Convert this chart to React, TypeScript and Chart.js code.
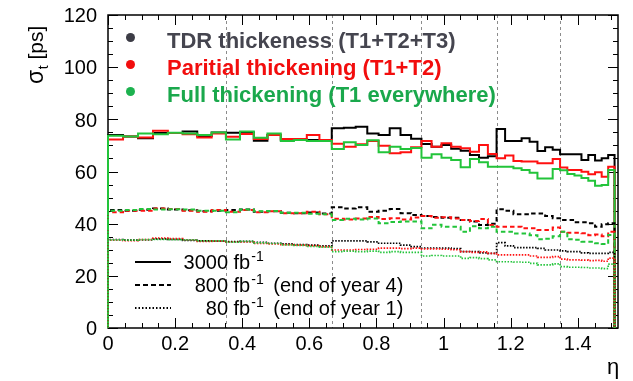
import React, { useEffect, useRef } from 'react';
import { Chart, registerables } from 'chart.js';

Chart.register(...registerables);

// Bin edges in eta (uniform in z along the barrel)
const etaEdges = [
  0, 0.04483, 0.08956, 0.13412, 0.17842, 0.22237, 0.26591, 0.30896, 0.35146, 0.39336,
  0.43461, 0.47518, 0.51503, 0.55415, 0.5925, 0.6301, 0.66692, 0.70297, 0.73825, 0.77276,
  0.80652, 0.83953, 0.87181, 0.90338, 0.93424, 0.96443, 0.99395, 1.02283, 1.05107, 1.0787,
  1.10575, 1.13221, 1.15812, 1.18349, 1.20834, 1.23268, 1.25654, 1.27992, 1.30284, 1.32532,
  1.34737, 1.369, 1.39022, 1.41106, 1.43152, 1.45161, 1.47134, 1.49074, 1.50979,
];
const moduleBoundaries = [0.35146, 0.66692, 0.93424, 1.15812, 1.34737];
const xTicks = [0, 0.2, 0.4, 0.6, 0.8, 1, 1.2, 1.4];
const yTicks = [0, 20, 40, 60, 80, 100, 120];

// 3000 fb-1
const tdr3000 = [
  74.0, 73.4, 72.7, 74.8, 74.8, 75.3, 73.6, 75.0, 74.9, 75.0, 71.8, 74.0, 72.1, 72.3, 72.1, 72.0,
  76.6, 76.8, 77.2, 74.6, 74.0, 76.6, 74.0, 72.6, 70.5, 69.5, 70.2, 68.7, 68.0, 66.3, 65.3, 65.8,
  76.3, 71.7, 71.7, 72.7, 71.4, 67.9, 69.3, 68.3, 66.6, 66.6, 66.6, 64.4, 66.3, 64.2, 65.1, 66.3,
];
const partial3000 = [
  72.3, 73.4, 73.0, 75.6, 74.8, 74.3, 73.0, 74.6, 73.3, 74.4, 72.5, 74.0, 72.5, 72.5, 74.0, 72.1,
  70.6, 69.5, 70.4, 71.7, 69.9, 67.0, 67.4, 69.3, 71.7, 69.5, 70.8, 69.5, 68.9, 67.6, 70.2, 66.7,
  65.1, 66.1, 64.0, 63.8, 63.8, 63.2, 63.2, 64.8, 61.5, 60.6, 60.6, 59.9, 58.9, 59.7, 58.0, 61.8,
];
const full3000 = [
  73.7, 73.4, 74.6, 74.3, 74.9, 74.6, 74.0, 75.0, 72.3, 75.3, 72.9, 74.6, 71.7, 72.1, 71.7, 71.7,
  68.6, 71.2, 70.2, 72.0, 67.4, 69.5, 68.6, 69.0, 65.3, 66.6, 65.3, 64.4, 61.6, 64.8, 63.5, 61.8,
  61.8, 61.8, 61.2, 60.6, 59.5, 57.3, 57.3, 61.0, 60.5, 59.0, 58.5, 57.5, 56.5, 54.5, 54.8, 60.6,
];
// 800 fb-1
const tdr800 = [
  45.2, 45.0, 45.3, 45.8, 45.4, 45.1, 44.8, 45.0, 45.2, 45.4, 44.6, 44.8, 44.2, 44.0, 44.3, 43.9,
  46.3, 45.8, 46.3, 44.6, 45.0, 45.6, 44.0, 43.3, 42.9, 42.6, 42.3, 42.3, 41.4, 40.8, 39.5, 40.0,
  45.5, 45.0, 43.6, 43.6, 43.9, 43.9, 42.9, 42.1, 41.4, 41.4, 40.5, 40.5, 40.2, 38.8, 39.8, 40.2,
];
const partial800 = [
  44.4, 45.0, 45.0, 45.8, 45.6, 45.0, 44.6, 45.2, 44.6, 45.2, 44.4, 44.8, 44.0, 44.0, 44.6, 43.6,
  41.9, 41.6, 42.0, 42.6, 41.8, 42.1, 41.6, 42.4, 42.9, 42.3, 42.5, 42.0, 41.4, 41.0, 41.8, 39.5,
  38.8, 38.8, 38.8, 38.2, 38.2, 37.6, 37.6, 38.5, 36.9, 36.5, 36.5, 36.3, 35.6, 35.8, 35.2, 36.9,
];
const full800 = [
  45.0, 45.2, 45.6, 45.4, 45.5, 45.4, 45.0, 45.0, 44.4, 45.4, 44.8, 44.9, 44.2, 44.2, 43.8, 43.6,
  41.4, 41.9, 41.6, 42.0, 40.2, 40.6, 40.8, 40.8, 38.2, 39.6, 38.8, 38.8, 36.9, 39.0, 38.2, 38.8,
  36.9, 36.9, 36.2, 36.2, 35.6, 34.0, 34.2, 35.2, 36.9, 34.0, 33.8, 33.1, 33.1, 32.5, 32.2, 35.7,
];
// 80 fb-1
const tdr80 = [
  33.9, 33.7, 33.8, 34.2, 34.0, 33.6, 33.4, 33.3, 33.1, 33.2, 32.8, 32.5, 32.3, 32.0, 31.8, 31.5,
  33.4, 33.4, 33.4, 33.0, 32.5, 32.5, 31.8, 31.2, 30.6, 30.6, 30.6, 30.4, 29.3, 29.3, 28.8, 28.6,
  32.7, 31.5, 30.8, 30.8, 30.8, 30.5, 29.9, 29.9, 29.6, 29.3, 29.3, 28.8, 28.6, 28.6, 28.6, 29.0,
];
const partial80 = [
  33.7, 33.5, 33.9, 34.5, 34.3, 33.8, 33.2, 33.3, 33.0, 33.0, 32.4, 32.2, 32.0, 31.8, 31.6, 31.2,
  29.9, 29.9, 30.1, 30.2, 30.6, 30.6, 30.4, 30.6, 30.3, 30.3, 30.2, 30.0, 29.3, 29.0, 29.2, 28.6,
  28.0, 28.0, 28.0, 28.0, 27.6, 27.1, 27.1, 27.4, 26.4, 26.1, 26.1, 26.0, 25.8, 25.9, 25.6, 26.8,
];
const full80 = [
  33.8, 33.7, 33.9, 34.0, 33.9, 33.8, 33.4, 33.4, 32.9, 33.2, 32.6, 32.4, 31.9, 31.7, 31.3, 31.0,
  29.3, 29.5, 29.3, 29.5, 29.0, 29.3, 29.0, 29.0, 27.6, 27.8, 27.6, 27.6, 26.7, 27.0, 26.6, 26.1,
  25.4, 25.4, 25.3, 25.2, 24.8, 24.2, 24.2, 24.6, 23.5, 23.3, 23.3, 23.2, 23.0, 23.0, 22.8, 24.5,
];

const legendLabels = ['TDR thickeness (T1+T2+T3)', 'Paritial thickening (T1+T2)', 'Full thickening (T1 everywhere)'];
const legendTextColors = ['#45454f', '#f20d0d', '#1aa84c'];
const legendDotColors = ['#3c3c46', '#f20d0d', '#1db24f'];
const lumiNumbers = ['3000', '800', '80'];
const lumiSuffix = ['', ' (end of year 4)', ' (end of year 1)'];

const LINE_BLACK = '#000000';
const LINE_RED = '#ff1010';
const LINE_GREEN = '#22c43a';
const FONT = '"Liberation Sans", Arial, Helvetica, sans-serif';

function histPoints(vals: number[]) {
  const pts: { x: number; y: number }[] = [{ x: etaEdges[0], y: 0 }];
  vals.forEach((v, i) => {
    pts.push({ x: etaEdges[i], y: v });
    pts.push({ x: etaEdges[i + 1], y: v });
  });
  pts.push({ x: etaEdges[vals.length], y: 0 });
  return pts;
}

const X_MAX = 1.52;
const Y_MAX = 120;

const decorPlugin = {
  id: 'decor',
  beforeDatasetsDraw(chart: any) {
    const { ctx, chartArea: a, scales } = chart;
    const x = scales.x;
    const y = scales.y;
    ctx.save();
    // module boundaries
    ctx.strokeStyle = '#8c8c8c';
    ctx.lineWidth = 1;
    ctx.setLineDash([3, 3]);
    moduleBoundaries.forEach((b) => {
      const px = Math.round(x.getPixelForValue(b)) + 0.5;
      ctx.beginPath();
      ctx.moveTo(px, a.top);
      ctx.lineTo(px, a.bottom);
      ctx.stroke();
    });
    ctx.setLineDash([]);
    // ticks
    ctx.strokeStyle = '#000';
    ctx.lineWidth = 1;
    for (let k = 0; k * 0.05 <= X_MAX + 1e-9; k++) {
      const v = k * 0.05;
      const len = k % 4 === 0 ? 10 : 5;
      const px = Math.round(x.getPixelForValue(v)) + 0.5;
      ctx.beginPath();
      ctx.moveTo(px, a.bottom);
      ctx.lineTo(px, a.bottom - len);
      ctx.moveTo(px, a.top);
      ctx.lineTo(px, a.top + len);
      ctx.stroke();
    }
    for (let k = 0; k * 5 <= Y_MAX; k++) {
      const v = k * 5;
      const len = k % 4 === 0 ? 10 : 5;
      const py = Math.round(y.getPixelForValue(v)) + 0.5;
      ctx.beginPath();
      ctx.moveTo(a.left, py);
      ctx.lineTo(a.left + len, py);
      ctx.moveTo(a.right, py);
      ctx.lineTo(a.right - len, py);
      ctx.stroke();
    }
    // frame
    ctx.lineWidth = 1.5;
    ctx.strokeRect(a.left, a.top, a.right - a.left, a.bottom - a.top);
    // y tick labels (positioned with the y scale)
    ctx.fillStyle = '#000';
    ctx.font = `20px ${FONT}`;
    ctx.textAlign = 'right';
    ctx.textBaseline = 'alphabetic';
    yTicks.forEach((v) => {
      ctx.fillText(String(v), a.left - 11, y.getPixelForValue(v) + 7.3);
    });
    ctx.restore();
  },
  afterDraw(chart: any) {
    const { ctx } = chart;
    ctx.save();
    // color legend
    ctx.textBaseline = 'alphabetic';
    ctx.textAlign = 'left';
    ctx.font = `bold 22px ${FONT}`;
    legendLabels.forEach((lab, i) => {
      const cy = 37.5 + i * 27;
      ctx.fillStyle = legendDotColors[i];
      ctx.beginPath();
      ctx.arc(130.5, cy, 4.5, 0, Math.PI * 2);
      ctx.fill();
      ctx.fillStyle = legendTextColors[i];
      ctx.fillText(lab, 167, cy + 10.5);
    });
    // luminosity legend
    const styles = [[], [5, 3], [1.5, 2]];
    lumiNumbers.forEach((num, i) => {
      const base = 269 + i * 23;
      const ly = base - 7;
      ctx.strokeStyle = '#000';
      ctx.lineWidth = 2;
      ctx.setLineDash(styles[i] as number[]);
      ctx.beginPath();
      ctx.moveTo(135, ly);
      ctx.lineTo(171, ly);
      ctx.stroke();
      ctx.setLineDash([]);
      ctx.fillStyle = '#000';
      ctx.font = `20px ${FONT}`;
      ctx.textAlign = 'right';
      ctx.fillText(num, 228, base);
      ctx.textAlign = 'left';
      const fbX = 228 + ctx.measureText(' ').width;
      ctx.fillText('fb', fbX, base);
      const supX = fbX + ctx.measureText('fb').width + 1;
      ctx.font = `14px ${FONT}`;
      ctx.fillText('-1', supX, base - 8);
      const restX = supX + ctx.measureText('-1').width;
      ctx.font = `20px ${FONT}`;
      if (lumiSuffix[i]) ctx.fillText(lumiSuffix[i], restX + 4, base);
    });
    // y title: sigma_t [ps]
    ctx.save();
    ctx.translate(43, 84);
    ctx.rotate(-Math.PI / 2);
    ctx.fillStyle = '#000';
    ctx.textAlign = 'left';
    ctx.font = `23px ${FONT}`;
    ctx.fillText('σ', 0, 0);
    const sw = ctx.measureText('σ').width;
    ctx.font = `14px ${FONT}`;
    ctx.fillText('t', sw + 0.5, 5);
    const tw = ctx.measureText('t').width;
    ctx.font = `21px ${FONT}`;
    ctx.fillText(' [ps]', sw + tw + 0.5, 0);
    ctx.restore();
    // x title
    ctx.fillStyle = '#000';
    ctx.font = `22px ${FONT}`;
    ctx.textAlign = 'center';
    ctx.fillText('η', 613, 374);
    ctx.restore();
  },
};

export default function App() {
  const ref = useRef<HTMLCanvasElement>(null);
  useEffect(() => {
    if (!ref.current) return;
    const mk = (label: string, vals: number[], color: string, dash: number[], width: number) => ({
      label,
      data: histPoints(vals),
      borderColor: color,
      backgroundColor: color,
      borderWidth: width,
      borderDash: dash,
      pointRadius: 0,
      tension: 0,
      fill: false,
      clip: 4,
    });
    const chart = new Chart(ref.current, {
      type: 'line',
      data: {
        datasets: [
          mk('Full 80', full80, LINE_GREEN, [1.5, 1.5], 1.7),
          mk('Partial 80', partial80, LINE_RED, [1.5, 1.5], 1.7),
          mk('TDR 80', tdr80, LINE_BLACK, [1.5, 1.5], 1.7),
          mk('Full 800', full800, LINE_GREEN, [4.5, 3], 2),
          mk('Partial 800', partial800, LINE_RED, [4.5, 3], 2),
          mk('TDR 800', tdr800, LINE_BLACK, [4.5, 3], 2),
          mk('Full 3000', full3000, LINE_GREEN, [], 2),
          mk('Partial 3000', partial3000, LINE_RED, [], 2),
          mk('TDR 3000', tdr3000, LINE_BLACK, [], 2),
        ],
      },
      options: {
        responsive: false,
        animation: false,
        events: [],
        layout: { padding: { left: 0, top: 15, right: 15, bottom: 0 } },
        plugins: { legend: { display: false }, tooltip: { enabled: false }, title: { display: false } },
        scales: {
          x: {
            type: 'linear',
            min: 0,
            max: X_MAX,
            grid: { display: false, drawTicks: false, tickLength: 0 },
            border: { display: false },
            afterBuildTicks: (s: any) => {
              s.ticks = xTicks.map((v) => ({ value: v }));
            },
            afterFit: (s: any) => {
              s.height = 53;
            },
            ticks: {
              autoSkip: false,
              maxRotation: 0,
              padding: 4,
              color: '#000',
              font: { family: FONT, size: 20 },
              callback: (v: any) => String(Math.round(Number(v) * 10) / 10),
            },
          },
          y: {
            type: 'linear',
            min: 0,
            max: Y_MAX,
            grid: { display: false, drawTicks: false, tickLength: 0 },
            border: { display: false },
            afterBuildTicks: (s: any) => {
              s.ticks = yTicks.map((v) => ({ value: v }));
            },
            afterFit: (s: any) => {
              s.width = 108;
            },
            ticks: { display: false },
          },
        },
      },
      plugins: [decorPlugin],
    } as any);
    return () => chart.destroy();
  }, []);
  return (
    <div style={{ position: 'absolute', left: 0, top: 0, width: 633, height: 381, background: '#fff' }}>
      <canvas ref={ref} width={633} height={381} style={{ width: 633, height: 381, display: 'block' }} />
    </div>
  );
}
